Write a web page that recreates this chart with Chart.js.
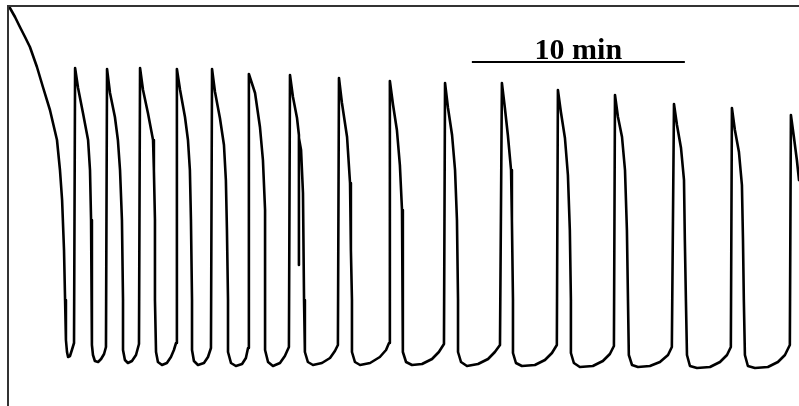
<!DOCTYPE html>
<html>
<head>
<meta charset="utf-8">
<script src="https://cdn.jsdelivr.net/npm/chart.js@4/dist/chart.umd.min.js"></script>
<style>
html,body{margin:0;padding:0;background:#fff;}
#c{display:block;}
</style>
</head>
<body>
<canvas id="c" width="799" height="406"></canvas>
<script>
// Time (minutes) of each sampled point of the trace
const traceTime = [
  0, 0.09, 0.33, 0.56, 0.80, 1.03, 1.36, 1.64, 1.97, 2.30, 2.44, 2.54, 2.63, 2.68, 2.72, 2.77, 2.82, 2.91, 3.00, 3.10,
  3.15, 3.29, 3.52, 3.76, 3.85, 3.90, 3.94, 3.94, 3.99, 4.08, 4.23, 4.37, 4.51, 4.60,
  4.65, 4.79, 5.02, 5.16, 5.26, 5.35, 5.40, 5.40, 5.49, 5.63, 5.82, 6.01, 6.15,
  6.20, 6.34, 6.57, 6.81, 6.85, 6.90, 6.90, 6.95, 7.04, 7.23, 7.46, 7.65, 7.79, 7.89,
  7.93, 8.08, 8.31, 8.45, 8.54, 8.59, 8.64, 8.64, 8.73, 8.92, 9.20, 9.39, 9.53,
  9.58, 9.72, 9.95, 10.14, 10.23, 10.28, 10.33, 10.33, 10.47, 10.70, 10.99, 11.17, 11.27,
  11.31, 11.60, 11.83, 11.97, 12.07, 12.07, 12.07, 12.21, 12.44, 12.77, 13.00, 13.19,
  13.24, 13.38, 13.57, 13.66, 13.66, 13.66, 13.76, 13.85, 13.90, 13.94, 14.08, 14.32, 14.74, 15.12, 15.35, 15.49,
  15.54, 15.68, 15.92, 16.06, 16.10, 16.15, 16.15, 16.29, 16.53, 17.00, 17.46, 17.75, 17.89,
  17.93, 18.08, 18.26, 18.40, 18.50, 18.54, 18.54, 18.69, 18.97, 19.44, 19.91, 20.23, 20.47,
  20.52, 20.66, 20.85, 20.99, 21.08, 21.13, 21.13, 21.27, 21.55, 22.07, 22.54, 22.86, 23.10,
  23.19, 23.33, 23.47, 23.62, 23.66, 23.71, 23.71, 23.85, 24.13, 24.74, 25.21, 25.54, 25.77,
  25.82, 25.96, 26.15, 26.29, 26.38, 26.43, 26.43, 26.57, 26.85, 27.46, 27.93, 28.26, 28.45,
  28.50, 28.64, 28.83, 28.97, 29.06, 29.11, 29.15, 29.30, 29.58, 30.14, 30.61, 30.99, 31.17,
  31.27, 31.41, 31.60, 31.74, 31.78, 31.83, 31.88, 32.02, 32.35, 32.96, 33.43, 33.76, 33.94,
  33.99, 34.13, 34.32, 34.46, 34.51, 34.55, 34.60, 34.74, 35.07, 35.68, 36.15, 36.48, 36.71,
  36.76, 36.90, 37.04, 37.14, 37.23
];
// Recorded signal (arbitrary units) at each point
const traceSignal = [
  400, 398, 389, 379, 369, 359, 339, 319, 296, 266, 236, 206, 156, 106, 66, 54, 49, 50, 56, 63,
  338, 318, 293, 266, 236, 186, 106, 61, 51, 45, 44, 47, 52, 59,
  337, 313, 289, 266, 236, 186, 106, 56, 46, 43, 45, 51, 62,
  338, 316, 293, 266, 236, 186, 106, 54, 44, 41, 43, 49, 56, 63,
  337, 316, 289, 266, 236, 186, 106, 56, 45, 41, 43, 49, 58,
  337, 314, 288, 261, 226, 176, 106, 54, 43, 40, 42, 48, 58,
  332, 313, 279, 246, 196, 106, 56, 44, 40, 43, 50, 59,
  331, 309, 288, 271, 141, 268, 256, 213, 106, 54, 44, 41, 43, 48, 55, 61,
  328, 303, 269, 223, 156, 106, 54, 44, 41, 43, 49, 56, 63,
  325, 301, 276, 241, 196, 106, 54, 44, 41, 42, 47, 54, 62,
  323, 298, 271, 236, 186, 106, 54, 44, 40, 42, 47, 54, 61,
  323, 298, 271, 236, 186, 106, 53, 43, 40, 41, 46, 53, 61,
  316, 294, 268, 231, 176, 106, 53, 43, 39, 40, 45, 52, 60,
  311, 289, 269, 236, 176, 106, 51, 41, 39, 40, 44, 51, 59,
  302, 281, 258, 226, 166, 106, 51, 40, 38, 39, 44, 51, 59,
  298, 276, 254, 221, 166, 106, 51, 40, 38, 39, 44, 51, 61,
  291, 269, 246, 226, 176
];
// Axis ranges (minutes, signal units)
const timeRange = [0, 37.14];
const signalRange = [0, 400];
// Scale bar
const scaleBarStart = 21.78;   // minutes
const scaleBarLength = 10;     // minutes
const scaleBarLevel = 344;     // signal units
const scaleBarLabel = '10 min';

const points = traceTime.map((t, i) => ({x: t, y: traceSignal[i]}));

const overlayPlugin = {
  id: 'overlay',
  afterDraw(chart) {
    const {ctx, chartArea: a, scales: {x, y}} = chart;
    ctx.save();
    // frame (left and top edges)
    ctx.strokeStyle = '#333';
    ctx.lineWidth = 2;
    ctx.beginPath();
    ctx.moveTo(a.left, a.bottom);
    ctx.lineTo(a.left, a.top);
    ctx.lineTo(a.right, a.top);
    ctx.stroke();
    // scale bar
    const x0 = x.getPixelForValue(scaleBarStart);
    const x1 = x.getPixelForValue(scaleBarStart + scaleBarLength);
    const yb = y.getPixelForValue(scaleBarLevel);
    ctx.strokeStyle = '#000';
    ctx.lineWidth = 2;
    ctx.beginPath();
    ctx.moveTo(x0, yb);
    ctx.lineTo(x1, yb);
    ctx.stroke();
    ctx.fillStyle = '#000';
    ctx.font = 'bold 30px "Liberation Serif", "Times New Roman", serif';
    ctx.textAlign = 'center';
    ctx.textBaseline = 'alphabetic';
    ctx.fillText(scaleBarLabel, (x0 + x1) / 2, yb - 3);
    ctx.restore();
  }
};

new Chart(document.getElementById('c'), {
  type: 'scatter',
  data: {
    datasets: [{
      data: points,
      showLine: true,
      borderColor: '#000',
      borderWidth: 2.6,
      borderJoinStyle: 'round',
      borderCapStyle: 'round',
      pointRadius: 0,
      tension: 0,
      fill: false
    }]
  },
  options: {
    responsive: false,
    animation: false,
    layout: {padding: {left: 8, top: 6, right: 0, bottom: 0}},
    plugins: {legend: {display: false}, tooltip: {enabled: false}},
    scales: {
      x: {type: 'linear', display: false, min: timeRange[0], max: timeRange[1]},
      y: {type: 'linear', display: false, min: signalRange[0], max: signalRange[1]}
    }
  },
  plugins: [overlayPlugin]
});
</script>
</body>
</html>
